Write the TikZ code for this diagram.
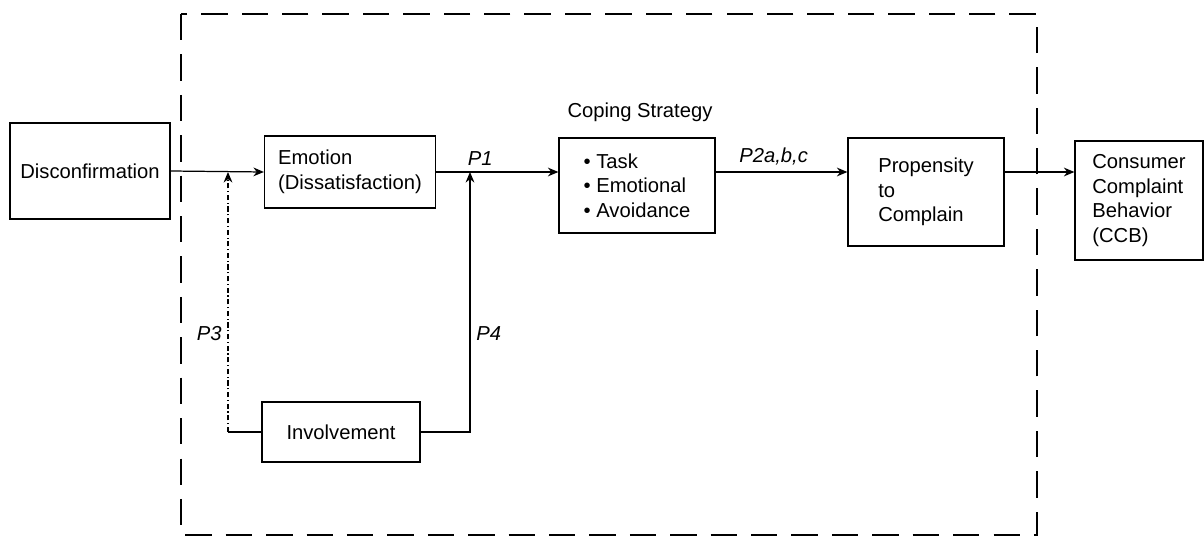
\documentclass[tikz,border=0pt]{standalone}
\usepackage{fontspec}
\setmainfont{Liberation Sans}
\usetikzlibrary{arrows.meta}
\tikzset{
  box/.style={draw, line width=0.7pt, inner sep=0pt},
  lbl/.style={font=\fontsize{11.5}{14}\selectfont\itshape},
  flow/.style={-{Stealth[length=6pt,width=5pt]}, line width=0.7pt},
}
\begin{document}
\begin{tikzpicture}[x=0.02cm, y=-0.02cm, font=\fontsize{11.5}{14}\selectfont]
    \useasboundingbox (0,0) rectangle (1204,537);

    % Frontera del modelo (rectangulo punteado)
    \draw[line width=0.7pt, dash pattern=on 15pt off 8pt] (181,14) rectangle (1037,535);

    % Cajas principales
    \node[box, minimum width=3.2cm, minimum height=1.92cm] (disc) at (90,171) {Disconfirmation};
    \node[box, minimum width=3.42cm, minimum height=1.44cm, align=left] (emo) at (350,172) {Emotion\\(Dissatisfaction)};
    \node[box, minimum width=3.12cm, minimum height=1.9cm, align=left] (cope) at (637,185.5) {\textbullet\ Task\\\textbullet\ Emotional\\\textbullet\ Avoidance};
    \node[box, minimum width=3.12cm, minimum height=2.16cm, align=left] (prop) at (926,192) {Propensity\\to\\Complain};
    \node[box, minimum width=2.56cm, minimum height=2.38cm, align=left] (ccb) at (1139,200.5) {Consumer\\Complaint\\Behavior\\(CCB)};
    \node[box, minimum width=3.16cm, minimum height=1.2cm] (inv) at (341,432) {Involvement};

    % Titulo de la estrategia
    \node (copetitle) at (640,112) {Coping Strategy};

    % Puntos de llegada de los moderadores
    \coordinate (j3) at (228,172);
    \coordinate (c3) at (228,432);
    \coordinate (j4) at (470,172);

    % Flujo principal
    \draw[flow] (disc.east) -- (emo.west);
    \draw[flow] (emo.east) -- (emo.east -| cope.west) node[lbl, pos=0.36, above] {P1};
    \draw[flow] (emo.east -| cope.east) -- (emo.east -| prop.west) node[lbl, pos=0.44, above] {P2a,b,c};
    \draw[flow] (emo.east -| prop.east) -- (emo.east -| ccb.west);

    % Moderadores P3 y P4
    \draw[line width=0.7pt] (inv.west) -- (c3);
    \draw[flow, dash pattern=on 3pt off 1.5pt on 0.6pt off 1.5pt] (c3) -- (j3) node[lbl, pos=0.38, left] {P3};
    \draw[flow] (inv.east) -| (j4) node[lbl, pos=0.69, right] {P4};
\end{tikzpicture}
\end{document}
